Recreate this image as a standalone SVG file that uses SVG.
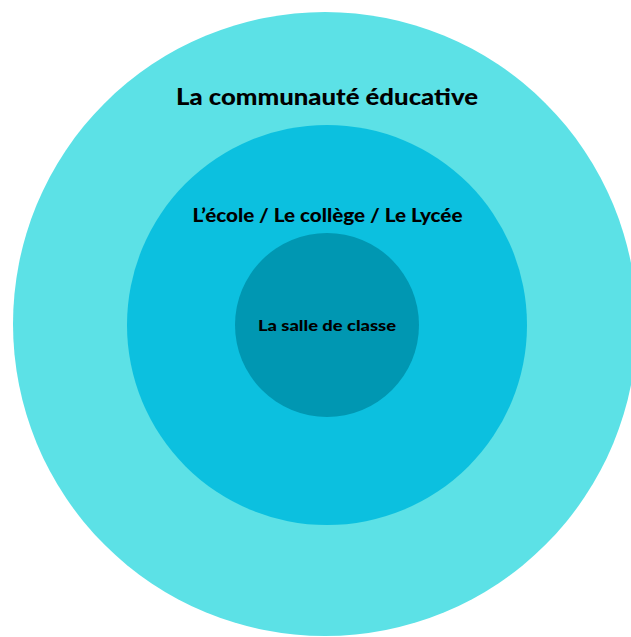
<svg xmlns="http://www.w3.org/2000/svg" width="631" height="637" viewBox="0 0 631 637">
  <style>
    .lbl { font-family: Lato, "Liberation Sans", sans-serif; font-weight: 900; fill: #000000; text-anchor: middle; }
  </style>
  <rect width="631" height="637" fill="#ffffff"/>
  <g id="outer">
    <circle cx="325" cy="324" r="312" fill="#5ce1e6"/>
    <text class="lbl" x="327" y="104.5" font-size="23" textLength="302" lengthAdjust="spacingAndGlyphs">La communauté éducative</text>
  </g>
  <g id="middle">
    <circle cx="327" cy="325" r="200" fill="#0cc0df"/>
    <text class="lbl" x="327.5" y="222" font-size="19.5" textLength="270" lengthAdjust="spacingAndGlyphs">L’école / Le collège / Le Lycée</text>
  </g>
  <g id="inner">
    <circle cx="327" cy="325" r="92" fill="#0097b2"/>
    <text class="lbl" x="327" y="331" font-size="15.5" textLength="138" lengthAdjust="spacingAndGlyphs">La salle de classe</text>
  </g>
  <g id="connectors"/>
</svg>
